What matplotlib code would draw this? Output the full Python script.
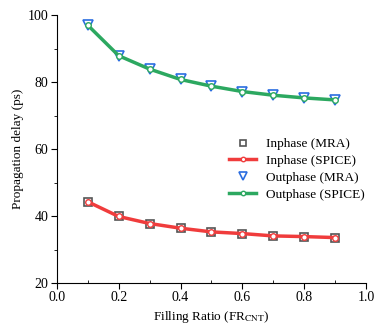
import numpy as np
import matplotlib
matplotlib.use('Agg')
import matplotlib.pyplot as plt
from matplotlib.ticker import MultipleLocator

plt.rcParams['font.family'] = ['Liberation Serif', 'DejaVu Serif']
plt.rcParams['mathtext.fontset'] = 'stix'

fr = [0.1, 0.2, 0.3, 0.4, 0.5, 0.6, 0.7, 0.8, 0.9]
inphase = [44.3, 39.9, 37.8, 36.4, 35.3, 34.8, 34.1, 33.9, 33.6]
outphase = [97.0, 87.9, 83.9, 80.8, 78.8, 77.2, 76.1, 75.3, 74.7]

fig = plt.figure(figsize=(3.79, 3.30), dpi=100)
ax = fig.add_axes([0.150, 0.142, 0.816, 0.812])

# MRA markers (open)
ax.plot(fr, inphase, 's', ms=6, mfc='none', mec='#555555', mew=1.2, label='Inphase (MRA)', zorder=3)
ax.plot(fr, inphase, '-', color='#f03c3c', lw=2.5, marker='o', ms=4, mfc='white', mec='#f03c3c',
        mew=1, label='Inphase (SPICE)', zorder=4)
ax.plot(fr, outphase, 'v', ms=7, mfc='none', mec='#2a6de0', mew=1.2, label='Outphase (MRA)', zorder=3)
ax.plot(fr, outphase, '-', color='#2ca860', lw=2.5, marker='o', ms=4, mfc='white', mec='#2ca860',
        mew=1, label='Outphase (SPICE)', zorder=4)

ax.set_xlim(0, 1.0)
ax.set_ylim(20, 100)
ax.xaxis.set_major_locator(MultipleLocator(0.2))
ax.yaxis.set_major_locator(MultipleLocator(20))
ax.yaxis.set_minor_locator(MultipleLocator(10))
ax.xaxis.set_minor_locator(MultipleLocator(0.1))
ax.tick_params(axis='both', which='major', direction='out', length=4, labelsize=10, pad=2)
ax.tick_params(axis='y', which='minor', direction='out', length=2)
ax.tick_params(axis='x', which='minor', direction='in', length=2)
ax.spines['top'].set_visible(False)
ax.spines['right'].set_visible(False)

ax.set_xlabel(r'Filling Ratio (FR$_\mathrm{CNT}$)', fontsize=9.5, labelpad=3)
ax.set_ylabel('Propagation delay (ps)', fontsize=9.5, labelpad=3)

ax.legend(loc='upper right', bbox_to_anchor=(1.033, 0.586), frameon=False, fontsize=9.5,
          handlelength=2.1, labelspacing=0.35, handletextpad=0.7, markerscale=0.8)

fig.savefig('out.png', dpi=100)
